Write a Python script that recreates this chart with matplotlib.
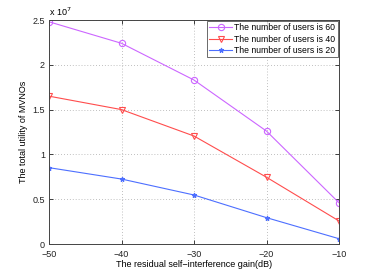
import numpy as np
import matplotlib
matplotlib.use('Agg')
import matplotlib.pyplot as plt

gain_db = [-50, -40, -30, -20, -10]
users_60 = [2.48e7, 2.24e7, 1.83e7, 1.26e7, 0.46e7]
users_40 = [1.65e7, 1.50e7, 1.205e7, 0.745e7, 0.257e7]
users_20 = [0.852e7, 0.725e7, 0.547e7, 0.294e7, 0.059e7]

plt.rcParams['font.family'] = ['Liberation Sans', 'DejaVu Sans']
plt.rcParams['font.size'] = 6.5

fig = plt.figure(figsize=(3.74, 2.75), dpi=100)
ax = fig.add_axes([49 / 374, 1 - 244 / 275, 290 / 374, 224 / 275])

ax.plot(gain_db, users_60, color='#cc66ff', lw=0.8, marker='o', ms=4.5,
        mfc='none', mew=0.8, label='The number of users is 60')
ax.plot(gain_db, users_40, color='#ff4d4d', lw=0.8, marker='v', ms=4.5,
        mfc='none', mew=0.8, label='The number of users is 40')
ax.plot(gain_db, users_20, color='#4d6fff', lw=0.8, marker='*', ms=3.5,
        mew=0.8, label='The number of users is 20')

ax.set_xlim(-50, -10)
ax.set_ylim(0, 2.5e7)
ax.set_xticks(gain_db)
ax.set_xticklabels(['\u221250', '\u221240', '\u221230', '\u221220', '\u221210'])
ax.set_yticks(np.arange(0, 2.51e7, 0.5e7))
ax.set_yticklabels(['0', '0.5', '1', '1.5', '2', '2.5'])
ax.text(0, 1.01, r'x 10$^7$', transform=ax.transAxes, fontsize=6.5, va='bottom')

ax.grid(True, linestyle=(0, (1, 2.5)), color='#aaaaaa', lw=0.6)
ax.tick_params(direction='in', top=True, right=True, length=3, width=0.6,
               colors='#222222')
ax.tick_params(axis='x', pad=4)
ax.tick_params(axis='y', pad=3)
for s in ax.spines.values():
    s.set_color('#444444')
    s.set_linewidth(0.7)

ax.set_xlabel('The residual self\u2212interference gain(dB)', labelpad=1)
ax.set_ylabel('The total utility of MVNOs', labelpad=3)

leg = ax.legend(loc='upper right', fontsize=6.2, fancybox=False,
                edgecolor='#444444', borderaxespad=0.1, handlelength=2.6,
                handletextpad=0.3, borderpad=0.3, labelspacing=0.25)
leg.get_frame().set_linewidth(0.7)

fig.savefig('out.png', dpi=100)
